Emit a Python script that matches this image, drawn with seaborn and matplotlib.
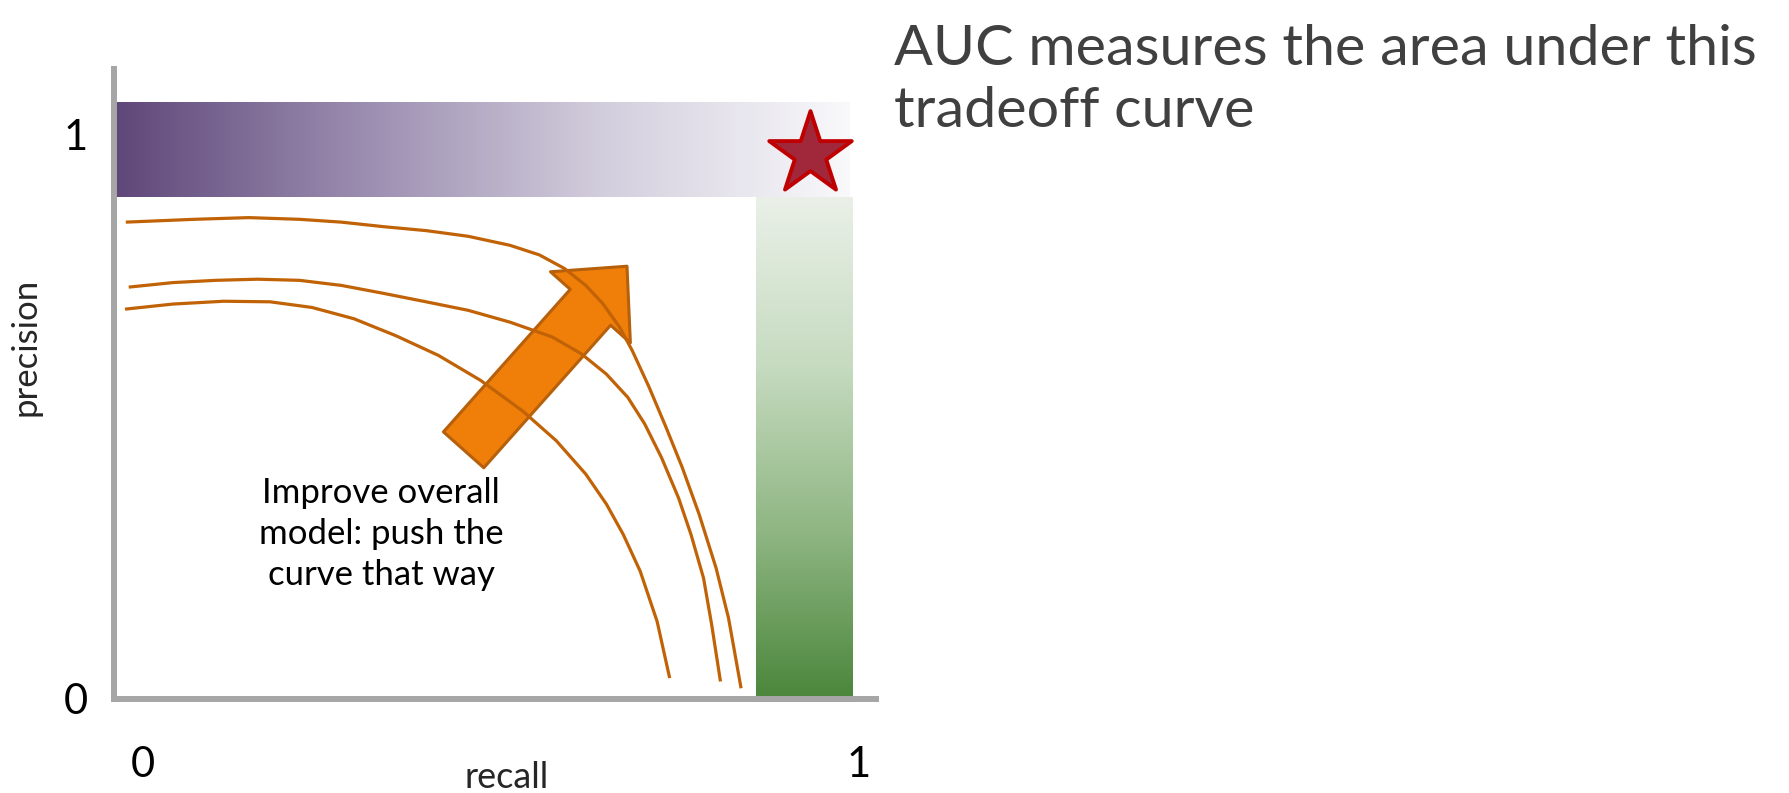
import numpy as np
import pandas as pd
import matplotlib
matplotlib.use("Agg")
import matplotlib.pyplot as plt
import seaborn as sns
from matplotlib.colors import LinearSegmentedColormap
from matplotlib.transforms import ScaledTranslation

# Precision-recall tradeoff curves (recall on x, precision on y)
outer_recall = [0.016, 0.109, 0.183, 0.252, 0.309, 0.366, 0.424, 0.481, 0.538, 0.578,
                0.612, 0.641, 0.664, 0.687, 0.704, 0.727, 0.750, 0.772, 0.795, 0.818,
                0.835, 0.852]
outer_precision = [0.844, 0.849, 0.852, 0.849, 0.844, 0.836, 0.829, 0.819, 0.803, 0.786,
                   0.762, 0.732, 0.700, 0.658, 0.617, 0.552, 0.481, 0.410, 0.327, 0.232,
                   0.143, 0.019]

middle_recall = [0.020, 0.080, 0.138, 0.195, 0.252, 0.309, 0.366, 0.424, 0.481, 0.538,
                 0.595, 0.635, 0.669, 0.698, 0.721, 0.744, 0.767, 0.784, 0.801, 0.812,
                 0.824]
middle_precision = [0.729, 0.737, 0.741, 0.743, 0.741, 0.732, 0.718, 0.703, 0.688, 0.667,
                    0.641, 0.611, 0.575, 0.534, 0.487, 0.427, 0.356, 0.291, 0.214, 0.132,
                    0.031]

inner_recall = [0.015, 0.080, 0.149, 0.212, 0.269, 0.326, 0.383, 0.441, 0.498, 0.555,
                0.601, 0.641, 0.669, 0.692, 0.715, 0.738, 0.755]
inner_precision = [0.690, 0.699, 0.704, 0.703, 0.693, 0.673, 0.643, 0.608, 0.564, 0.510,
                   0.457, 0.398, 0.345, 0.291, 0.226, 0.137, 0.037]

# Ideal regions: perfect precision band and perfect recall band
precision_band_recall = [0.0, 1.0]
precision_band_precision = [0.888, 1.055]
recall_band_recall = [0.872, 1.003]
recall_band_precision = [0.0, 0.888]

# Ideal operating point
ideal_recall = [0.946]
ideal_precision = [0.965]

# Improvement arrow (tail -> tip)
arrow_tail = (0.475, 0.441)
arrow_tip = (0.697, 0.766)

tick_values = [0, 1]
tick_labels = ["0", "1"]

title_lines = ["AUC measures the area under this", "tradeoff curve"]
note_lines = ["Improve overall", "model: push the", "curve that way"]

sns.set_style("white")
plt.rcParams["font.family"] = ["Lato", "DejaVu Sans"]

W, H = 1790, 793
fig = plt.figure(figsize=(W / 100, H / 100), dpi=100)
ax = fig.add_axes([114 / W, 94 / H, 762 / W, 630 / H])

purple = LinearSegmentedColormap.from_list(
    "purple_fade", ["#5f4779", "#9a8caf", "#d3cedd", "#f9f9fb"])
green = LinearSegmentedColormap.from_list(
    "green_fade", ["#4b863b", "#8fb683", "#c6dbc0", "#eaf0e8"])

grad = np.linspace(0, 1, 256)
ax.imshow(grad[None, :], cmap=purple, aspect="auto", interpolation="bilinear",
          extent=[precision_band_recall[0], precision_band_recall[1],
                  precision_band_precision[0], precision_band_precision[1]],
          zorder=1)
ax.imshow(grad[:, None], cmap=green, aspect="auto", interpolation="bilinear",
          origin="lower",
          extent=[recall_band_recall[0], recall_band_recall[1],
                  recall_band_precision[0], recall_band_precision[1]],
          zorder=1)

# Arrow showing the direction of improvement
ax.annotate("", xy=arrow_tip, xytext=arrow_tail,
            arrowprops=dict(arrowstyle="simple,head_length=39.6,head_width=77,tail_width=38.9",
                            mutation_scale=1, shrinkA=0, shrinkB=0,
                            fc="#f07f0a", ec="#b6600c", lw=2.2),
            zorder=2)

curves = pd.concat([
    pd.DataFrame({"recall": outer_recall, "precision": outer_precision, "curve": "outer"}),
    pd.DataFrame({"recall": middle_recall, "precision": middle_precision, "curve": "middle"}),
    pd.DataFrame({"recall": inner_recall, "precision": inner_precision, "curve": "inner"}),
], ignore_index=True)

sns.lineplot(data=curves, x="recall", y="precision", units="curve",
             estimator=None, sort=False, color="#c06205", linewidth=2.3,
             solid_capstyle="butt", solid_joinstyle="round", legend=False,
             ax=ax, zorder=3)

sns.scatterplot(x=ideal_recall, y=ideal_precision, marker="*", s=3900,
                color="#a0283a", edgecolor="#c00000", linewidth=2.8,
                legend=False, ax=ax, zorder=4)

ax.set_xlim(0, 762 / 736)
ax.set_ylim(0, 630 / 565)

for side in ["top", "right"]:
    ax.spines[side].set_visible(False)
for side in ["left", "bottom"]:
    ax.spines[side].set_color("#a6a6a6")
    ax.spines[side].set_linewidth(4.3)
    ax.spines[side].set_zorder(5)

ax.set_xticks(tick_values, labels=tick_labels)
ax.set_yticks(tick_values, labels=tick_labels)
ax.tick_params(axis="both", length=0, labelsize=30, colors="black")
ax.tick_params(axis="y", pad=19)
ax.tick_params(axis="x", pad=34)
for lab, dx in zip(ax.get_xticklabels(), [29, 9]):
    lab.set_transform(lab.get_transform() + ScaledTranslation(dx / 100, 0, fig.dpi_scale_trans))

ax.set_ylabel("precision", fontsize=25, ha="center", va="center")
ax.yaxis.set_label_coords((25 - 114) / 762, (699 - 347) / 630)
ax.set_xlabel("recall", fontsize=26, ha="center", va="center")
ax.xaxis.set_label_coords((507 - 114) / 762, (699 - 777) / 630)

for i, line in enumerate(note_lines):
    ax.text((381 - 114) / 736, (699 - (493 + 41 * i)) / 565, line,
            ha="center", va="center", fontsize=25, color="black", zorder=6)

for i, line in enumerate(title_lines):
    fig.text(894 / W, 1 - (65 + 62 * i) / H, line, ha="left", va="baseline",
             fontsize=41.4, color="#404040")

fig.savefig("out.png", dpi=100)
